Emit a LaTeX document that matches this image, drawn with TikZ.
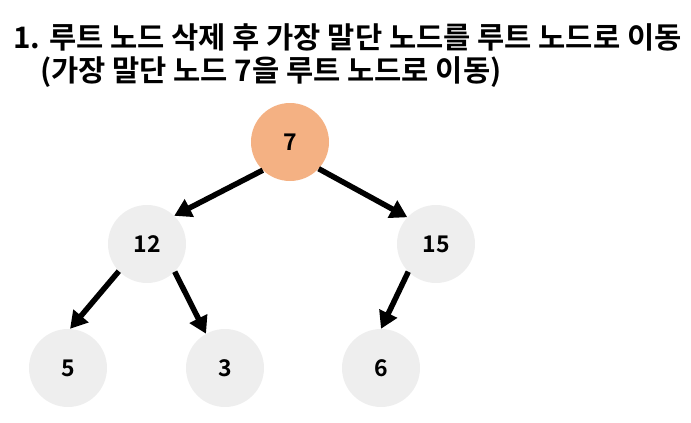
\documentclass[tikz,border=0pt]{standalone}
\usepackage{fontspec}
\setmainfont{Liberation Sans}
\newfontfamily\krfont{Noto Sans CJK KR Bold}
\usetikzlibrary{arrows.meta}
\begin{document}
\begin{tikzpicture}[x=1pt,y=-1pt,
  hnode/.style={circle,minimum size=78pt,inner sep=0pt,fill=nodegray,font=\krfont\fontsize{23}{23}\selectfont},
  rootnode/.style={hnode,fill=rootorange},
  edge/.style={line width=5.5pt,-{Triangle[length=17pt,width=19pt]}},
  titletext/.style={anchor=base west,inner sep=0pt,font=\krfont\fontsize{29.6}{29.6}\selectfont}]
\definecolor{nodegray}{HTML}{EEEEEE}
\definecolor{rootorange}{HTML}{F4B183}
\useasboundingbox (0,0) rectangle (691,423);
\node[titletext] (t1) at (13,48) {1. 루트 노드 삭제 후 가장 말단 노드를 루트 노드로 이동};
\node[titletext] (t2) at (40,81) {(가장 말단 노드 7을 루트 노드로 이동)};
\node[rootnode] (n7) at (290,142) {7};
\node[hnode] (n12) at (147,244) {12};
\node[hnode] (n15) at (436,244) {15};
\node[hnode] (n5) at (68,368) {5};
\node[hnode] (n3) at (225,368) {3};
\node[hnode] (n6) at (381,368) {6};
\draw[edge] (n7.226) -- (n12.46);
\draw[edge] (n7.-43) -- (n15.137);
\draw[edge] (n12.224) -- (n5.87);
\draw[edge] (n12.-45) -- (n3.119);
\draw[edge] (n15.225) -- (n6.90);
\end{tikzpicture}
\end{document}
